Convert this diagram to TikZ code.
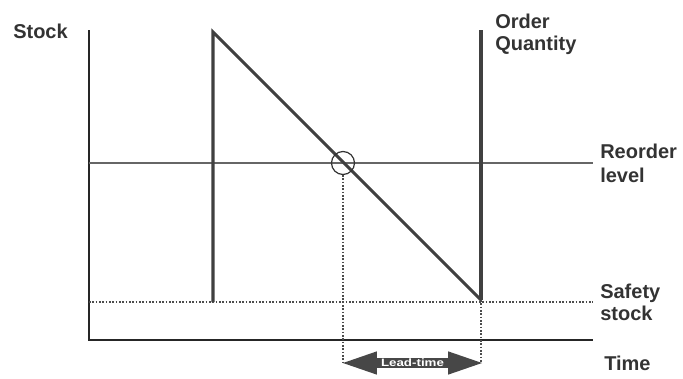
\documentclass[tikz,border=0pt]{standalone}
\usepackage{fontspec}
\setmainfont{Liberation Sans}
\usetikzlibrary{shapes.arrows}
\begin{document}
\begin{tikzpicture}[x=0.75pt,y=-0.75pt,
  lbl/.style={font=\bfseries\fontsize{15}{16.5}\selectfont, text=black!80, inner sep=0pt, align=left},
  axisline/.style={line width=1.1pt, black!85},
  levelline/.style={line width=1.4pt, black!60},
  stockline/.style={line width=2.3pt, black!75},
  dotline/.style={line width=1pt, black!70, dash pattern=on 1.2pt off 1.3pt},
  leadarrow/.style={double arrow, fill=black!72, draw=none, minimum height=139pt*0.75, minimum width=17.5pt, double arrow head extend=4.2pt, double arrow tip angle=38, inner sep=0pt, text=white, font=\bfseries\fontsize{8}{9}\selectfont}]
\useasboundingbox (0,0) rectangle (683,379);
% coordinates
\coordinate (O) at (89,340);
\coordinate (Ytop) at (89,30);
\coordinate (Xend) at (593,340);
\coordinate (R0) at (89,163);
\coordinate (R1) at (593,163);
\coordinate (S0) at (89,302);
\coordinate (S1) at (593,302);
\coordinate (V1b) at (213,302);
\coordinate (V1t) at (213,32);
\coordinate (V2t) at (481,30);
\coordinate (V2b) at (481,300);
\coordinate (D1) at (343,175);
\coordinate (D1b) at (343,363);
\coordinate (D2b) at (481,363);
% lines
\draw[axisline] (Ytop) -- (O) -- (Xend);
\draw[levelline] (R0) -- (R1);
\draw[dotline] (S0) -- (S1);
\draw[dotline] (D1) -- (D1b);
\draw[dotline] (V2b) -- (D2b);
\draw[stockline] (V1b) -- (V1t) -- (V2b);
\draw[stockline] (V2t) -- (V2b);
\node[circle, draw=black!80, line width=0.9pt, minimum size=23pt*0.75, inner sep=0pt] (circ) at (343,163) {};
% lead-time arrow
\node[leadarrow] (lead) at (412.5,363) {\scalebox{1.25}[1]{Lead-time}};
% labels
\node[lbl, anchor=base west] (stock) at (13,38) {Stock};
\node[lbl, anchor=base west] (oq) at (495,50) {Order\\Quantity};
\node[lbl, anchor=base west] (ro) at (600,182) {Reorder\\[1.5pt]level};
\node[lbl, anchor=base west] (ss) at (600,320) {Safety\\stock};
\node[lbl, anchor=base west] (time) at (604,370) {Time};
\end{tikzpicture}
\end{document}
